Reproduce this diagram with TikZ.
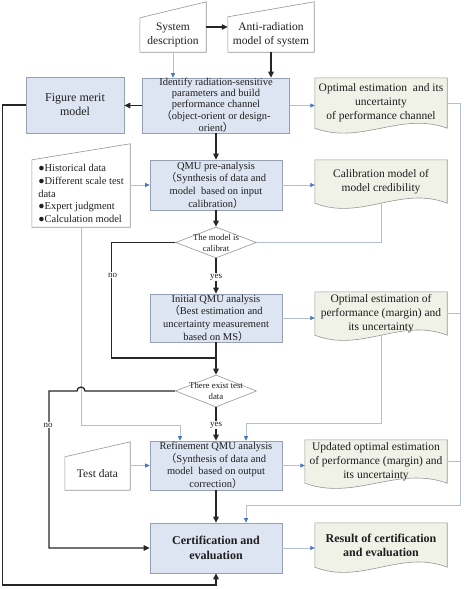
\documentclass[tikz,border=0pt]{standalone}
\usepackage{fontspec}
\setmainfont{Liberation Serif}
\newfontfamily\cjkf{Noto Sans CJK SC}
\usetikzlibrary{shapes.geometric,arrows.meta,calc,backgrounds}
\definecolor{boxfill}{RGB}{221,229,242}
\definecolor{boxline}{RGB}{150,160,180}
\definecolor{docfill}{RGB}{240,242,232}
\definecolor{docline}{RGB}{150,150,150}
\definecolor{thinline}{RGB}{180,192,210}
\definecolor{tipblue}{RGB}{70,120,195}
\definecolor{txt}{RGB}{30,30,30}
\newcommand\fwlp{{\cjkf （}}
\newcommand\fwrp{{\cjkf ）}}
\newcommand\docshape[2]{%
  \draw[docsty] (#1.south east) -- (#1.north east) -- (#1.north west) -- (#1.south west)
    .. controls ($(#1.south west)!0.35!(#1.south east)+(0pt,-#2)$) and ($(#1.south west)!0.65!(#1.south east)+(0pt,#2)$) .. (#1.south east) -- cycle;}
\newcommand\mishape[2]{%
  \draw[misty] (#1.south west) -- (#1.north west) -- ($(#1.north east)+(0pt,#2)$) -- (#1.south east) -- cycle;}
\begin{document}
\begin{tikzpicture}[x=1pt,y=-1pt,
  box/.style={draw=boxline,fill=boxfill,line width=0.6pt,inner sep=0pt,align=center,text=txt,font=\fontsize{10.5}{12.6}\selectfont},
  docnode/.style={inner sep=1pt,align=center,text=txt,font=\fontsize{11.5}{14}\selectfont},
  mitext/.style={inner sep=1pt,align=center,text=txt,font=\fontsize{11.5}{14}\selectfont},
  docsty/.style={draw=docline,fill=docfill,line width=0.6pt},
  misty/.style={draw=docline,fill=white,line width=0.6pt},
  dia/.style={diamond,draw=docline,fill=white,line width=0.6pt,inner sep=0pt},
  dtext/.style={font=\fontsize{8.8}{11}\selectfont,align=center,text=txt,inner sep=0pt},
  lab/.style={fill=white,inner sep=1pt,font=\fontsize{9}{10}\selectfont,text=txt},
  thkline/.style={line width=1.3pt,black!85},
  thk/.style={thkline,-{Triangle[length=6pt,width=5.5pt]}},
  thnline/.style={line width=0.6pt,thinline},
  thn/.style={thnline,-{Triangle[length=4.5pt,width=4pt,color=tipblue]}},
]
\useasboundingbox (0,0) rectangle (467,589);

% nodes
\node[mitext,minimum width=66pt,minimum height=34pt] (sysd) at (173,35) {System\\description};
\node[mitext,minimum width=86pt,minimum height=35pt] (anti) at (271,34.5) {Anti-radiation\\model of system};
\node[box,minimum width=147pt,minimum height=55pt,font=\fontsize{10.5}{11}\selectfont] (ident) at (216,105.5)
  {Identify radiation-sensitive\\parameters and build\\performance channel\\\fwlp object-orient or design-\\orient\fwrp};
\node[box,minimum width=98pt,minimum height=56pt,font=\fontsize{12}{14}\selectfont] (fig) at (75,105) {Figure merit\\model};
\node[docnode,minimum width=132pt,minimum height=50pt] (opt1) at (381,103) {Optimal estimation~ and its\\uncertainty\\of performance channel};
\node[mitext,align=left,font=\fontsize{10.5}{12.7}\selectfont,minimum width=98pt,minimum height=67pt] (hist) at (81,193.5)
  {●Historical data\\●Different scale test\\data\\●Expert judgment\\●Calculation model};
\node[box,minimum width=132pt,minimum height=50pt] (pre) at (216,185) {QMU pre-analysis\\\fwlp Synthesis of data and\\model~ based on input\\calibration\fwrp};
\node[docnode,minimum width=132pt,minimum height=43pt] (calib) at (381,181.5) {Calibration model of\\model credibility};
\node[dia,minimum width=81pt,minimum height=31pt] (d1) at (216,242.5) {};
\node[dtext] (d1t) at (d1) {The model is\\calibrat};
\node[box,minimum width=132pt,minimum height=48pt] (init) at (216,318) {Initial QMU analysis\\\fwlp Best estimation and\\uncertainty measurement\\based on MS\fwrp};
\node[docnode,minimum width=132pt,minimum height=43pt] (opt2) at (381,313.5) {Optimal estimation of\\performance (margin) and\\its uncertainty};
\node[dia,minimum width=81pt,minimum height=32pt] (d2) at (216,391) {};
\node[dtext] (d2t) at (d2) {There exist test\\data};
\node[box,minimum width=132pt,minimum height=49pt] (ref) at (216,465.5) {Refinement QMU analysis\\\fwlp Synthesis of data and\\model~ based on output\\correction\fwrp};
\node[mitext,minimum width=65pt,minimum height=33pt] (test) at (97.5,473.5) {Test data};
\node[docnode,minimum width=142pt,minimum height=43pt] (upd) at (376,461.5) {Updated optimal estimation\\of performance (margin) and\\its uncertainty};
\node[box,minimum width=132pt,minimum height=50pt,font=\fontsize{12}{15}\selectfont\bfseries] (cert) at (216,548) {Certification and\\evaluation};
\node[docnode,minimum width=132pt,minimum height=44pt,font=\fontsize{12}{14}\selectfont\bfseries] (res) at (381,545) {Result of certification\\and evaluation};

\begin{pgfonlayer}{background}
\mishape{sysd}{16pt}
\mishape{anti}{15pt}
\mishape{hist}{16pt}
\mishape{test}{15pt}
\docshape{opt1}{17pt}
\docshape{calib}{18pt}
\docshape{opt2}{18pt}
\docshape{upd}{18pt}
\docshape{res}{18pt}
\end{pgfonlayer}

\coordinate (j1) at (216,358);
\coordinate (k1) at (180,425);
\coordinate (k2) at (246,423);
\coordinate (k3) at (216,585);
\coordinate (k4) at (460,505);
\coordinate (k5) at (246,505);

% thin connectors
\draw[thn] (sysd.south) -- (sysd.south |- ident.north);
\draw[thn] (ident.east) -- (ident.east -| opt1.west);
\draw[thn] (hist.east |- pre.west) -- (pre.west);
\draw[thn] (pre.east) -- (pre.east -| calib.west);
\draw[thnline] (calib.south) |- (d1.east);
\draw[thn] (init.east) -- (init.east -| opt2.west);
\draw[thn] (hist.south) |- (k1) -- (k1 |- ref.north);
\draw[thn] (opt2.south) |- (k2) -- (k2 |- ref.north);
\draw[thn] (ref.west -| test.east) -- (ref.west);
\draw[thn] (ref.east) -- (ref.east -| upd.west);
\draw[thn] (cert.east) -- (cert.east -| res.west);
\draw[thn] (opt1.east) -| (k4) -- (k5) -- (k5 |- cert.north);
\draw[thnline] (opt2.east) -- (opt2.east -| k4);
\draw[thnline] (upd.east) -- (upd.east -| k4);

% thick connectors
\draw[thk] ([yshift=8pt]sysd.east) -- ([yshift=8pt]sysd.east -| anti.west);
\draw[thk] (anti.south) -- (anti.south |- ident.north);
\draw[thk] (ident.west) -- (ident.west -| fig.east);
\draw[thk] (ident.south) -- (pre.north);
\draw[thk] (pre.south) -- (d1.north);
\draw[thkline] (d1.west) -- ++(-63.5pt,0pt) |- (j1);
\draw[thk] (d1.south) -- (init.north);
\draw[thk] (init.south) -- (d2.north);
\draw[thk] ($(d2.west -| hist.south)+(-1pt,0pt)$) ++(5pt,0pt) coordinate (hopR)
  (d2.west) -- (hopR) arc[start angle=0,end angle=180,radius=4pt] -- ++(-28pt,0pt) |- (cert.west);
\draw[thk] (d2.south) -- (ref.north);
\draw[thk] (ref.south) -- (cert.north);
\draw[thk] (fig.west) -- ++(-23pt,0pt) |- (k3) -- (cert.south);

% labels
\node[lab] (no1) at (112.5,275) {no};
\node[lab] (yes1) at (216,277) {yes};
\node[lab] (no2) at (48,425) {no};
\node[lab] (yes2) at (216,425) {yes};
\end{tikzpicture}
\end{document}
